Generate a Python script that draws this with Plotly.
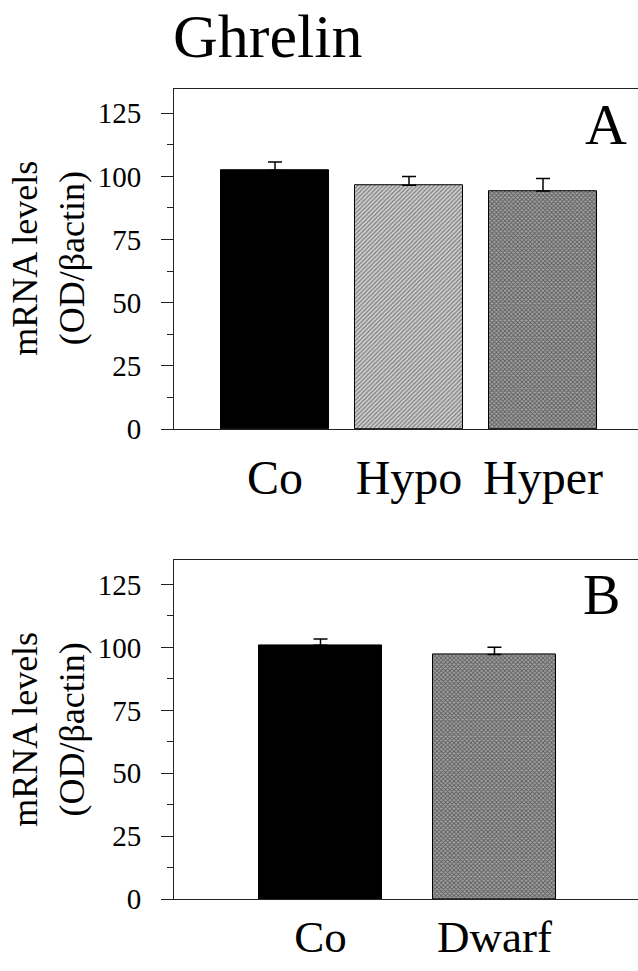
import plotly.graph_objects as go

# ---- data ----
title_text = "Ghrelin"
cats_a = ["Co", "Hypo", "Hyper"]
vals_a = [102.3, 96.5, 94.2]
err_a = [3.4, 3.5, 5.0]

cats_b = ["Co", "Dwarf"]
vals_b = [100.8, 97.2]
err_b = [2.5, 2.8]

y_ticks = [0, 25, 50, 75, 100, 125]
y_title = "mRNA levels<br>(OD/βactin)"
panel_labels = ["A", "B"]

W, H = 638, 971
FONT = "Liberation Serif"
VS = 0.981  # observed vertical compression of the capture


def py(px):
    return 1 - (px / VS) / H


fill_a = [
    dict(color="black", pattern=None),
    dict(color="#b8b8b8", pattern=dict(shape="/", fgcolor="#2a2a2a", bgcolor="#d0d0d0", size=3, solidity=0.42)),
    dict(color="#7a7a7a", pattern=dict(shape="x", fgcolor="#111111", bgcolor="#a4a4a4", size=3, solidity=0.5)),
]
fill_b = [fill_a[0], fill_a[2]]

fig = go.Figure()


def add_panel(cats, vals, errs, fills, xa, ya, width, cap):
    for c, v, e, f in zip(cats, vals, errs, fills):
        marker = dict(color=f["color"], line=dict(color="black", width=1))
        if f["pattern"] is not None:
            marker["pattern"] = f["pattern"]
        fig.add_trace(go.Bar(
            x=[c], y=[v], width=width, marker=marker,
            error_y=dict(type="data", symmetric=False, array=[e], arrayminus=[0],
                         color="black", thickness=1.5, width=cap),
            xaxis=xa, yaxis=ya, showlegend=False, hoverinfo="skip",
        ))


add_panel(cats_a, vals_a, err_a, fill_a, "x", "y", 0.806, 7)
add_panel(cats_b, vals_b, err_b, fill_b, "x2", "y2", 0.707, 7)

xdom = [174 / W, 1.0]
common_x = dict(
    type="category", showline=True, linecolor="#222", linewidth=1, mirror=True,
    ticks="", showgrid=False, zeroline=False,
)
common_y = dict(
    range=[0, 134.5], tickvals=y_ticks, showline=True, linecolor="#222", linewidth=1,
    mirror=False, ticks="outside", ticklen=12, tickwidth=1, tickcolor="#222",
    minor=dict(dtick=12.5, tick0=0, ticks="outside", ticklen=6, tickwidth=1, tickcolor="#222"),
    showgrid=False, zeroline=False, ticklabelstandoff=14,
    tickfont=dict(family=FONT, size=29, color="black"),
)

fig.update_layout(
    width=W, height=H, margin=dict(l=0, r=0, t=0, b=0),
    paper_bgcolor="white", plot_bgcolor="white", bargap=0,
    xaxis=dict(common_x, domain=xdom, anchor="y", range=[-0.754, 2.709], ticklabelstandoff=6,
               tickfont=dict(family=FONT, size=48, color="black")),
    yaxis=dict(common_y, domain=[py(428), py(89)], anchor="x"),
    xaxis2=dict(common_x, domain=xdom, anchor="y2", range=[-0.842, 1.825], ticklabelstandoff=-2,
                tickfont=dict(family=FONT, size=45, color="black")),
    yaxis2=dict(common_y, domain=[py(897), py(559)], anchor="x2"),
)

annos = [
    dict(text=title_text, x=171 / W, y=1.0, xanchor="left", yanchor="top",
         font=dict(family=FONT, size=62, color="black")),
    dict(text=panel_labels[0], x=606 / W, y=py(124), xanchor="center", yanchor="middle",
         font=dict(family=FONT, size=58, color="black")),
    dict(text=panel_labels[1], x=601 / W, y=py(593), xanchor="center", yanchor="middle",
         font=dict(family=FONT, size=56, color="black")),
    dict(text=y_title, x=49 / W, y=py(258), xanchor="center", yanchor="middle", textangle=-90,
         font=dict(family=FONT, size=36, color="black")),
    dict(text=y_title, x=49 / W, y=py(728), xanchor="center", yanchor="middle", textangle=-90,
         font=dict(family=FONT, size=36, color="black")),
]
for a in annos:
    a.update(xref="paper", yref="paper", showarrow=False)
fig.update_layout(annotations=annos)

fig.write_html("out.html", config={"displayModeBar": False},
               post_script="document.body.style.margin='0';document.body.style.overflow='hidden';")
